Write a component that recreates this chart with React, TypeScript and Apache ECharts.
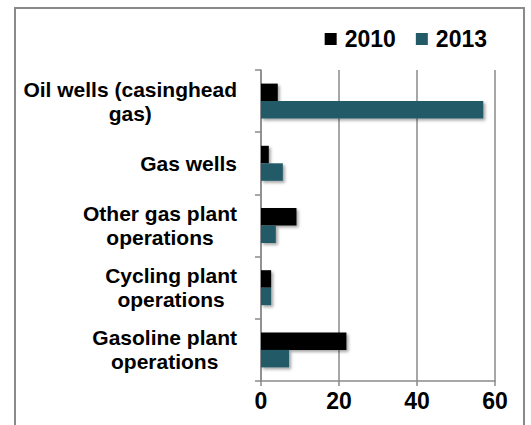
import React, { useEffect, useRef } from "react";
import * as echarts from "echarts";

const categories = [
  "Oil wells (casinghead\ngas)",
  "Gas wells",
  "Other gas plant\noperations",
  "Cycling plant\noperations",
  "Gasoline plant\noperations",
];
const seriesNames = ["2010", "2013"];
const values2010 = [4.3, 2.0, 9.1, 2.6, 21.9];
const values2013 = [57.0, 5.6, 3.8, 2.6, 7.2];
const xTicks = [0, 20, 40, 60];

const FONT = "'Liberation Sans', Arial, sans-serif";
const GRAY = "#8a8a8a";
const TEAL = "#225a68";

export default function App() {
  const ref = useRef<HTMLDivElement>(null);
  useEffect(() => {
    if (!ref.current) return;
    const chart = echarts.init(ref.current, undefined, { renderer: "svg" });
    const shadow = {
      shadowBlur: 3,
      shadowOffsetX: 2,
      shadowOffsetY: 2,
      shadowColor: "rgba(0,0,0,0.35)",
    };
    chart.setOption({
      animation: false,
      backgroundColor: "#ffffff",
      textStyle: { fontFamily: FONT },
      graphic: [
        {
          type: "rect",
          shape: { x: 15, y: 8, width: 509, height: 460 },
          style: { fill: "none", stroke: GRAY, lineWidth: 2 },
          silent: true,
        },
      ],
      legend: {
        right: 39,
        top: 22,
        itemWidth: 12,
        itemHeight: 12,
        itemGap: 20,
        icon: "rect",
        data: seriesNames,
        textStyle: {
          fontFamily: FONT,
          fontSize: 23,
          fontWeight: "bold",
          color: "#000",
          lineHeight: 24,
          padding: [0, 0, 0, 3],
        },
      },
      grid: { left: 261, right: 36, top: 70, bottom: 44, containLabel: false },
      xAxis: {
        type: "value",
        min: xTicks[0],
        max: xTicks[xTicks.length - 1],
        interval: 20,
        axisLine: { show: true, lineStyle: { color: GRAY, width: 1.5 } },
        axisTick: { show: true, length: 5, lineStyle: { color: GRAY, width: 1.5 } },
        splitLine: { show: true, lineStyle: { color: GRAY, width: 1.5 } },
        axisLabel: {
          margin: 8,
          fontFamily: FONT,
          fontSize: 23,
          fontWeight: "bold",
          color: "#000",
        },
      },
      yAxis: {
        type: "category",
        data: categories,
        inverse: true,
        axisLine: { show: true, lineStyle: { color: GRAY, width: 1.5 } },
        axisTick: { show: true, length: 6, lineStyle: { color: GRAY, width: 1.5 } },
        axisLabel: {
          margin: 24,
          color: "#000",
          formatter: (v: string) =>
            v
              .split("\n")
              .map((l) => `{c|${l}}`)
              .join("\n"),
          rich: {
            c: {
              align: "center",
              fontFamily: FONT,
              fontSize: 21,
              fontWeight: "bold",
              lineHeight: 24,
              color: "#000",
            },
          },
        },
      },
      series: [
        {
          name: seriesNames[0],
          type: "bar",
          data: values2010,
          barWidth: 17.5,
          barGap: "0%",
          itemStyle: { color: "#000000", ...shadow },
        },
        {
          name: seriesNames[1],
          type: "bar",
          data: values2013,
          barWidth: 17.5,
          barGap: "0%",
          itemStyle: { color: TEAL, ...shadow },
        },
      ],
    });
    return () => chart.dispose();
  }, []);
  return (
    <div
      ref={ref}
      style={{ position: "fixed", left: 0, top: 0, width: 531, height: 425 }}
    />
  );
}
